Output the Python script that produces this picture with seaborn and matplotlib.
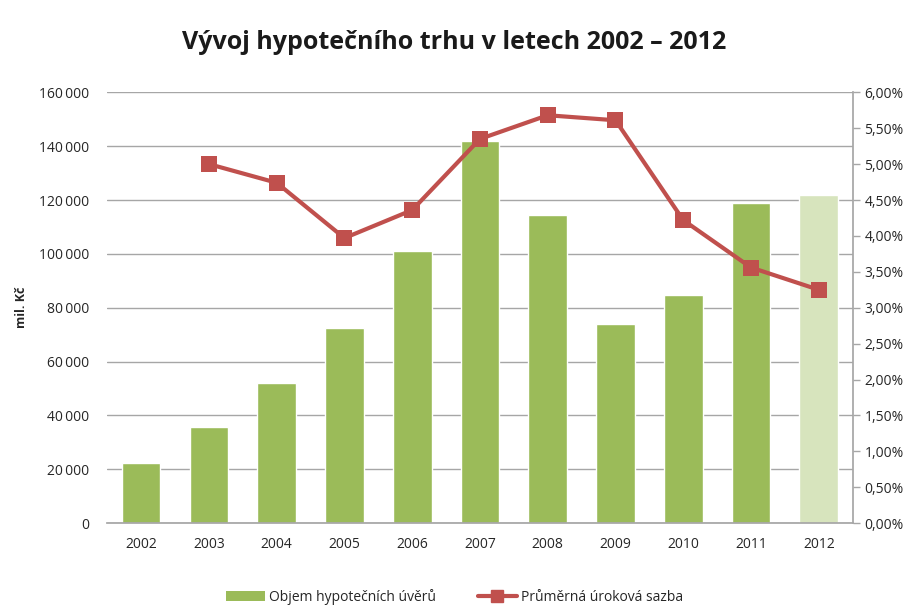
import matplotlib
matplotlib.use("Agg")
import matplotlib.pyplot as plt
import seaborn as sns
import pandas as pd
import numpy as np
from matplotlib.ticker import FuncFormatter, MultipleLocator
from matplotlib.patches import Patch
from matplotlib.lines import Line2D

years = ["2002", "2003", "2004", "2005", "2006", "2007", "2008", "2009", "2010", "2011", "2012"]
volume = [22300, 35700, 52000, 72300, 101000, 142000, 114500, 74000, 84600, 119000, 122000]
rate_years = ["2003", "2004", "2005", "2006", "2007", "2008", "2009", "2010", "2011", "2012"]
rate = [5.00, 4.74, 3.97, 4.36, 5.35, 5.68, 5.61, 4.22, 3.56, 3.25]

title = "Vývoj hypotečního trhu v letech 2002 – 2012"
ylabel = "mil. Kč"
bar_label = "Objem hypotečních úvěrů"
line_label = "Průměrná úroková sazba"

sns.set_theme(style="white")
plt.rcParams['font.family'] = ['Open Sans', 'DejaVu Sans']

green = "#9BBB59"
light_green = "#D7E4BD"
red = "#C0504D"

fig = plt.figure(figsize=(9.09, 6.07), dpi=100)
ax = fig.add_axes([0.118, 0.138, 0.82, 0.710])

df = pd.DataFrame({"year": years, "volume": volume})
colors = [green] * (len(years) - 1) + [light_green]
sns.barplot(data=df, x="year", y="volume", hue="year", palette=colors,
            width=0.57, legend=False, ax=ax, saturation=1)

ax.set_ylim(0, 160000)
ax.set_xlim(-0.5, len(years) - 0.5)
ax.yaxis.set_major_locator(MultipleLocator(20000))
ax.yaxis.set_major_formatter(FuncFormatter(lambda v, p: f"{int(v):,}".replace(",", "\u2009") if v else "0"))
ax.grid(axis="y", color="#A6A6A6", linewidth=1.0)
ax.set_axisbelow(True)
for s in ["top", "right", "left"]:
    ax.spines[s].set_visible(False)
ax.spines["bottom"].set_color("#A6A6A6")
ax.tick_params(axis="y", length=0, labelsize=10, colors="#262626", pad=13)
ax.tick_params(axis="x", length=0, labelsize=10, colors="#262626", pad=10)
ax.set_xlabel("")
ax.set_ylabel(ylabel, fontsize=9, fontweight="bold", labelpad=8)

ax2 = ax.twinx()
ldf = pd.DataFrame({"x": [years.index(y) for y in rate_years], "rate": rate})
sns.lineplot(data=ldf, x="x", y="rate", color=red, linewidth=3, marker="s",
             markersize=11, markeredgewidth=0, ax=ax2)
ax2.set_ylim(0, 6)
ax2.yaxis.set_major_locator(MultipleLocator(0.5))
ax2.yaxis.set_major_formatter(FuncFormatter(lambda v, p: f"{v:.2f}%".replace(".", ",")))
for s in ["top", "left", "bottom"]:
    ax2.spines[s].set_visible(False)
ax2.spines["right"].set_color("#A6A6A6")
ax2.tick_params(axis="y", length=5, width=1, color="#A6A6A6", labelsize=10, colors="#262626", direction="out")
ax2.set_ylabel("")
ax2.set_xlabel("")
ax2.grid(False)

fig.text(0.5, 0.93, title, ha="center", va="center", fontsize=18, fontweight="bold", color="#1a1a1a")

handles = [Patch(facecolor=green, edgecolor="none"),
           Line2D([0], [0], color=red, linewidth=3, marker="s", markersize=9)]
fig.legend(handles, [bar_label, line_label], loc="center", bbox_to_anchor=(0.5, 0.017),
           ncol=2, frameon=False, fontsize=10, handlelength=2.8, columnspacing=3, handletextpad=0.3)

fig.savefig("out.png", dpi=100)
